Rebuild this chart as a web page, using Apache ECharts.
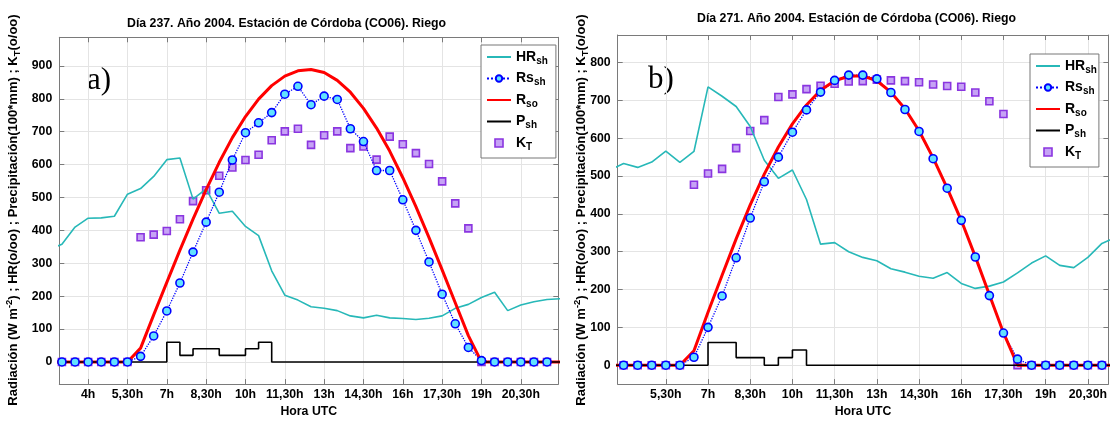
<!DOCTYPE html>
<html><head><meta charset="utf-8">
<script src="https://cdn.jsdelivr.net/npm/echarts@6/dist/echarts.min.js"></script>
<style>html,body{margin:0;padding:0;background:#fff}#c{width:1110px;height:423px}</style>
</head><body><div id="c"></div>
<script>
// ---------- Chart a) Día 237 ----------
const hoursA = [2.5,3,3.5,4,4.5,5,5.5,6,6.5,7,7.5,8,8.5,9,9.5,10,10.5,11,11.5,12,12.5,13,13.5,14,14.5,15,15.5,16,16.5,17,17.5,18,18.5,19,19.5,20,20.5,21,21.5,22];
const hrA  = [340,358,410,437,438,443,510,527,564,615,620,495,526,452,458,412,384,277,203,188,168,163,156,140,134,142,134,132,129,133,140,163,175,196,212,156,173,183,190,192];
const rsA  = [null,0,0,0,0,0,0,17,79,155,240,334,425,516,614,697,727,758,814,838,782,808,798,709,670,582,582,493,400,304,206,116,44,4,0,0,0,0,0,null];
const rsoA = [0,0,0,0,0,0,0,42,143,242,340,434,524,607,682,746,799,840,869,885,889,880,856,820,771,711,641,560,472,378,280,180,80,0,0,0,0,0,0,0];
const pshA = [0,0,0,0,0,0,0,0,0,60,20,40,40,20,20,40,60,0,0,0,0,0,0,0,0,0,0,0,0,0,0,0,0,0,0,0,0,0,0,0];
const ktA  = [null,0,0,0,0,0,0,379,387,398,434,489,522,566,591,614,630,674,701,709,660,689,701,650,655,615,685,662,635,602,549,482,406,0,0,0,0,0,0,null];

// ---------- Chart b) Día 271 ----------
const hoursB = [3.5,4,4.5,5,5.5,6,6.5,7,7.5,8,8.5,9,9.5,10,10.5,11,11.5,12,12.5,13,13.5,14,14.5,15,15.5,16,16.5,17,17.5,18,18.5,19,19.5,20,20.5,21,21.5];
const hrB  = [516,533,523,537,566,536,565,736,711,684,631,542,494,516,438,320,324,300,285,276,255,246,235,230,245,216,203,209,220,244,270,289,264,258,285,322,338];
const rsB  = [null,0,0,0,0,0,21,100,183,284,389,485,550,616,675,722,753,767,767,757,721,676,618,546,468,383,286,184,85,16,0,0,0,0,0,0,null];
const rsoB = [0,0,0,0,0,0,38,140,238,334,424,505,577,638,688,727,752,764,765,752,722,678,620,548,468,383,287,186,86,0,0,0,0,0,0,0,0];
const pshB = [0,0,0,0,0,0,0,60,60,20,20,0,20,40,0,0,0,0,0,0,0,0,0,0,0,0,0,0,0,0,0,0,0,0,0,0,0];
const ktB  = [null,0,0,0,0,0,477,507,519,574,619,648,709,716,730,739,744,750,751,755,753,751,748,742,738,736,721,698,664,0,0,0,0,0,0,0,null];

// ---------- ticks / labels ----------
const xTicksA = [4,5.5,7,8.5,10,11.5,13,14.5,16,17.5,19,20.5];
const xTicksB = [5.5,7,8.5,10,11.5,13,14.5,16,17.5,19,20.5];
const yTicksA = [0,100,200,300,400,500,600,700,800,900];
const yTicksB = [0,100,200,300,400,500,600,700,800];
const titleA = 'Día 237. Año 2004. Estación de Córdoba (CO06). Riego';
const titleB = 'Día 271. Año 2004. Estación de Córdoba (CO06). Riego';
const seriesNames = ['HRsh','Rssh','Rso','Psh','KT'];

const FONT = '"Liberation Sans", Arial, Helvetica, sans-serif';
const SERIF = '"Liberation Serif", "DejaVu Serif", serif';
const AX = '#7a7a7a', GRID = '#e4e4e4';
const C_HR = '#27b8b8', C_RS = '#0000ff', C_RS_FILL = '#62e2ff', C_RSO = '#ff0000', C_P = '#000000', C_KT = '#8a35e0', C_KT_FILL = '#c6a3f5';

function fmtHour(v){ const h = Math.floor(v); return (v - h) > 0.01 ? h + ',30h' : h + 'h'; }
const zip = (xs, ys) => xs.map((x,i)=>[x, ys[i]]);
const zipNN = (xs, ys) => xs.map((x,i)=>[x, ys[i]]).filter(p => p[1] !== null);

function axes(g, xmin, xmax, ymin, ymax, xt, yt){
  const line = {show:true, onZero:false, lineStyle:{color:AX, width:1}};
  const tick = (vals)=>({show:true, inside:true, length:5, customValues:vals, lineStyle:{color:AX}});
  const lbl = {color:'#000', fontWeight:'bold', fontSize:12.3, fontFamily:FONT};
  return {
    x: [
      {type:'value', gridIndex:g, min:xmin, max:xmax, position:'bottom', axisLine:line, axisTick:tick(xt),
       axisLabel:Object.assign({customValues:xt, formatter:fmtHour, margin:5}, lbl),
       splitLine:{show:true, lineStyle:{color:GRID}},
       name:'Hora UTC', nameLocation:'middle', nameGap:18, nameTextStyle:Object.assign({}, lbl)},
      {type:'value', gridIndex:g, min:xmin, max:xmax, position:'top', axisLine:line, axisTick:tick(xt),
       axisLabel:{show:false}, splitLine:{show:false}}
    ],
    y: [
      {type:'value', gridIndex:g, min:ymin, max:ymax, position:'left', axisLine:line, axisTick:tick(yt),
       axisLabel:Object.assign({customValues:yt, margin:7}, lbl),
       splitLine:{show:true, lineStyle:{color:GRID}}},
      {type:'value', gridIndex:g, min:ymin, max:ymax, position:'right', axisLine:line, axisTick:tick(yt),
       axisLabel:{show:false}, splitLine:{show:false}}
    ]
  };
}
const aA = axes(0, 2.9, 21.93, -67.4, 987, xTicksA, yTicksA);
const aB = axes(1, 3.79, 21.23, -50, 873, xTicksB, yTicksB);

function seriesFor(xi, yi, hours, hr, rs, rso, psh, kt){
  const base = {xAxisIndex:xi, yAxisIndex:yi, animation:false, clip:true};
  return [
    Object.assign({name:'HRsh', type:'line', data:zip(hours,hr), symbol:'none',
      lineStyle:{color:C_HR, width:1.6}, itemStyle:{color:C_HR}}, base),
    Object.assign({name:'Rssh', type:'line', data:zip(hours,rs), symbol:'circle', symbolSize:8, showAllSymbol:true,
      lineStyle:{color:C_RS, width:1.3, type:'dotted'}, itemStyle:{color:C_RS_FILL, borderColor:C_RS, borderWidth:1.6}}, base),
    Object.assign({name:'Rso', type:'line', data:zip(hours,rso), symbol:'none',
      lineStyle:{color:C_RSO, width:3}, itemStyle:{color:C_RSO}}, base),
    Object.assign({name:'Psh', type:'line', step:'end', data:zip(hours,psh), symbol:'none',
      lineStyle:{color:C_P, width:1.6}, itemStyle:{color:C_P}}, base),
    Object.assign({name:'KT', type:'scatter', data:zipNN(hours,kt), symbol:'rect', symbolSize:7,
      itemStyle:{color:C_KT_FILL, borderColor:C_KT, borderWidth:1.6, opacity:1}}, base)
  ];
}

const legendText = {HRsh:'{m|HR}{s|sh}', Rssh:'{m|Rs}{s|sh}', Rso:'{m|R}{s|so}', Psh:'{m|P}{s|sh}', KT:'{m|K}{s|T}'};
const hideSym = {opacity:0, color:'transparent', borderWidth:0};
function legend(left, top, padRight){
  return {orient:'vertical', left:left, top:top, itemWidth:24, itemHeight:8, itemGap:5.5,
    padding:[5,padRight,6,5], backgroundColor:'#fff', borderColor:'#777', borderWidth:1, borderRadius:0,
    selectedMode:false, symbolKeepAspect:true, formatter:n=>legendText[n],
    data:[
      {name:'HRsh', itemStyle:hideSym},
      {name:'Rssh'},
      {name:'Rso', itemStyle:hideSym},
      {name:'Psh', itemStyle:hideSym},
      {name:'KT', icon:'path://M0,0L10,0L10,10L0,10Z', itemStyle:{color:C_KT_FILL, borderColor:C_KT, borderWidth:1.6}}
    ],
    textStyle:{color:'#000', rich:{
      m:{fontSize:14, fontWeight:'bold', fontFamily:FONT, color:'#000'},
      s:{fontSize:10, fontWeight:'bold', fontFamily:FONT, color:'#000', padding:[8,0,0,0]}
    }}};
}

function yLabel(x, y){
  return {type:'text', x:x, y:y, rotation:Math.PI/2, silent:true,
    style:{text:'{b|Radiación (W m}{p|-2}{b|) ; HR(o/oo) ; Precipitación(100*mm) ; K}{d|T}{b|(o/oo)}',
      align:'center', verticalAlign:'middle', fill:'#000',
      rich:{b:{fontSize:13, fontWeight:'bold', fontFamily:FONT, fill:'#000'},
            p:{fontSize:9.5, fontWeight:'bold', fontFamily:FONT, padding:[0,0,8,0]},
            d:{fontSize:9.5, fontWeight:'bold', fontFamily:FONT, padding:[8,0,0,0]}}}};
}

const chart = echarts.init(document.getElementById('c'), null, {renderer:'canvas'});
chart.setOption({
  animation:false,
  backgroundColor:'#fff',
  title:[
    {text:titleA, left:127, top:18, padding:0, textStyle:{fontSize:12.3, fontWeight:'bold', fontFamily:FONT, color:'#000'}},
    {text:titleB, left:697, top:13, padding:0, textStyle:{fontSize:12.3, fontWeight:'bold', fontFamily:FONT, color:'#000'}}
  ],
  grid:[
    {left:59.3, right:551.7, top:37.3, bottom:30.3, containLabel:false},
    {left:617.7, right:0, top:35, bottom:30.7, containLabel:false}
  ],
  xAxis:[aA.x[0], aA.x[1], aB.x[0], aB.x[1]],
  yAxis:[aA.y[0], aA.y[1], aB.y[0], aB.y[1]],
  legend:[legend(481,45,8), legend(1030,54,2)],
  series:[].concat(seriesFor(0,0,hoursA,hrA,rsA,rsoA,pshA,ktA), seriesFor(2,2,hoursB,hrB,rsB,rsoB,pshB,ktB)),
  graphic:[
    yLabel(13, 210), yLabel(581, 210),
    {type:'text', x:87, y:65, silent:true, style:{text:'a)', fontSize:31, fontFamily:SERIF, fill:'#000', verticalAlign:'top'}},
    {type:'text', x:648, y:64, silent:true, style:{text:'b)', fontSize:31, fontFamily:SERIF, fill:'#000', verticalAlign:'top'}}
  ]
});
</script></body></html>
